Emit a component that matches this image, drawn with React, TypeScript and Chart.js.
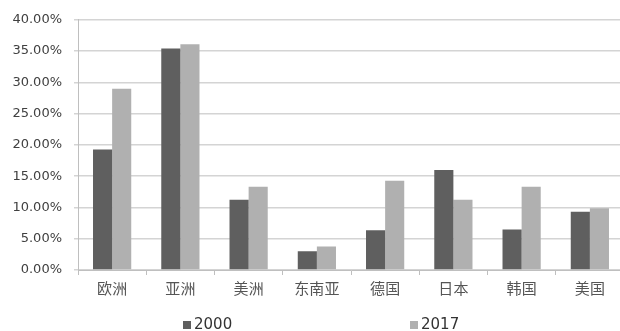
import React, { useEffect, useRef } from "react";
import { Chart, registerables } from "chart.js";

Chart.register(...registerables);

const categories = ["欧洲", "亚洲", "美洲", "东南亚", "德国", "日本", "韩国", "美国"];
const seriesLabels = ["2000", "2017"];
const values2000 = [19.25, 35.4, 11.25, 3.0, 6.37, 15.97, 6.48, 9.3];
const values2017 = [28.96, 36.1, 13.3, 3.77, 14.27, 11.25, 13.3, 9.87];
const yTicks = [0, 5, 10, 15, 20, 25, 30, 35, 40];

const colors = ["#5f5f5f", "#b0b0b0"];

const legendPlugin = {
  id: "customLegend",
  afterDraw(chart: any) {
    const ctx = chart.ctx;
    const ds = chart.data.datasets;
    const positions = [183, 410];
    const y = 325;
    ctx.save();
    ctx.font = "15px 'DejaVu Sans'";
    ctx.textBaseline = "middle";
    ds.forEach((d: any, i: number) => {
      const x = positions[i];
      ctx.fillStyle = d.backgroundColor;
      ctx.fillRect(x, y - 4, 8, 8);
      ctx.fillStyle = "#333333";
      ctx.fillText(d.label, x + 11, y);
    });
    ctx.restore();
  },
};

export default function App() {
  const ref = useRef<HTMLCanvasElement>(null);
  useEffect(() => {
    if (!ref.current) return;
    const chart = new Chart(ref.current, {
      type: "bar",
      data: {
        labels: categories,
        datasets: [
          { label: seriesLabels[0], data: values2000, backgroundColor: colors[0] },
          { label: seriesLabels[1], data: values2017, backgroundColor: colors[1] },
        ],
      },
      options: {
        responsive: false,
        animation: false,
        layout: { padding: { top: 18, right: 4, bottom: 35, left: 0 } },
        datasets: { bar: { barPercentage: 1, categoryPercentage: 0.56 } },
        plugins: { legend: { display: false }, tooltip: { enabled: false } },
        scales: {
          x: {
            grid: { display: true, drawOnChartArea: false, drawTicks: true, tickLength: 5, color: "#bfbfbf", offset: true },
            border: { color: "#bfbfbf" },
            ticks: { color: "#555555", font: { family: "'Noto Sans CJK SC'", size: 15 }, padding: 4 },
            afterFit: (s: any) => { s.height = 35; },
          },
          y: {
            min: 0,
            max: 40,
            afterBuildTicks: (s: any) => { s.ticks = yTicks.map((v) => ({ value: v })); },
            grid: { color: "#d4d4d4", lineWidth: 1.5, tickLength: 4 },
            border: { color: "#bfbfbf" },
            ticks: {
              color: "#404040",
              font: { family: "'DejaVu Sans'", size: 13 },
              padding: 12,
              callback: (v: any) => Number(v).toFixed(2) + "%",
            },
            afterFit: (s: any) => { s.width = 78; },
          },
        },
      },
      plugins: [legendPlugin],
    });
    return () => chart.destroy();
  }, []);
  return (
    <div style={{ position: "fixed", left: 0, top: 0, width: 620, height: 331, overflow: "hidden", background: "#fff" }}>
      <canvas ref={ref} width={628} height={340} style={{ display: "block" }} />
    </div>
  );
}
